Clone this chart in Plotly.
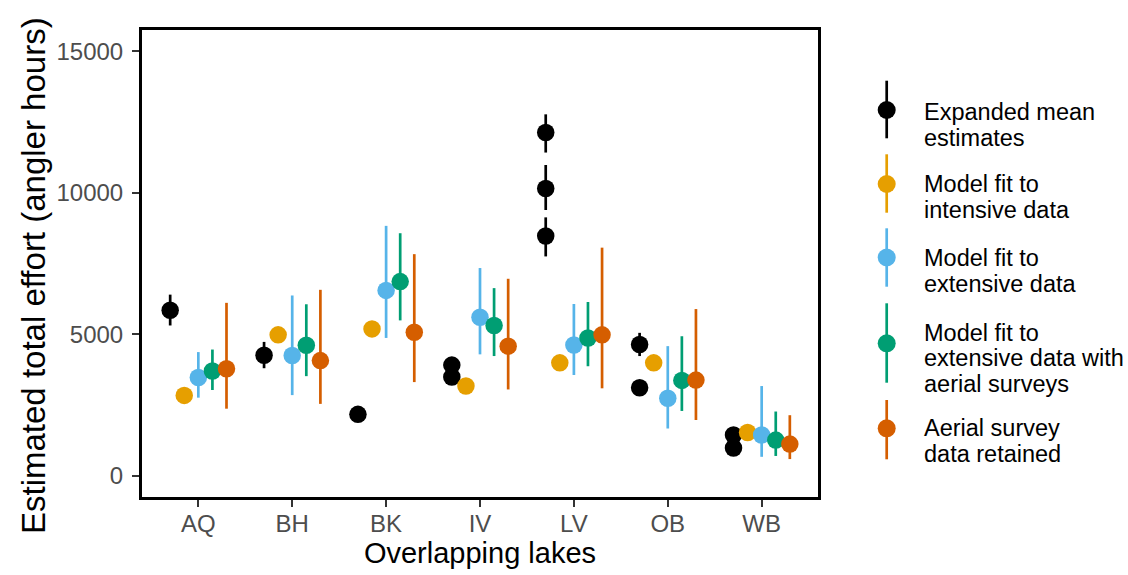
import plotly.graph_objects as go

# ---------------- data ----------------
lakes = ["AQ", "BH", "BK", "IV", "LV", "OB", "WB"]

# Expanded mean estimates (several per lake for some lakes)
mean_lakes = ["AQ", "BH", "BK", "IV", "IV", "LV", "LV", "LV", "OB", "OB", "WB", "WB"]
mean_est = [5850, 4260, 2170, 3910, 3490, 12130, 10150, 8470, 4640, 3110, 1440, 980]
mean_lo = [5310, 3800, 2170, 3910, 3490, 11420, 9390, 7750, 4230, 3110, 1440, 980]
mean_hi = [6400, 4730, 2170, 3910, 3490, 12770, 10980, 9130, 5050, 3110, 1440, 980]

# Model fit to intensive data
int_est = [2840, 4980, 5190, 3170, 3990, 3990, 1530]
int_lo = [2840, 4980, 5190, 3170, 3990, 3990, 1530]
int_hi = [2840, 4980, 5190, 3170, 3990, 3990, 1530]

# Model fit to extensive data
ext_est = [3470, 4250, 6550, 5600, 4620, 2740, 1440]
ext_lo = [2760, 2850, 4870, 4290, 3560, 1670, 670]
ext_hi = [4370, 6370, 8830, 7340, 6070, 4580, 3170]

# Model fit to extensive data with aerial surveys
aer_est = [3700, 4610, 6860, 5310, 4870, 3370, 1260]
aer_lo = [3030, 3520, 5490, 4230, 3870, 2290, 700]
aer_hi = [4460, 6060, 8570, 6630, 6140, 4930, 2270]

# Aerial survey data retained
ret_est = [3780, 4070, 5070, 4580, 4980, 3380, 1120]
ret_lo = [2370, 2540, 3310, 3050, 3090, 1970, 590]
ret_hi = [6110, 6570, 7830, 6960, 8060, 5890, 2140]

series_names = [
    "Expanded mean<br>estimates",
    "Model fit to<br>intensive data",
    "Model fit to<br>extensive data",
    "Model fit to<br>extensive data with<br>aerial surveys",
    "Aerial survey<br>data retained",
]
colors = ["#000000", "#E69F00", "#56B4E9", "#009E73", "#D55E00"]

y_ticks = [0, 5000, 10000, 15000]

# ---------------- figure ----------------
W, H = 1128, 575
ML, MR, MT, MB = 142, 310, 30, 78
PW, PH = W - ML - MR, H - MT - MB

FONT = "Liberation Sans, Arial, sans-serif"

fig = go.Figure()

all_series = [
    (mean_lakes, mean_est, mean_lo, mean_hi),
    (lakes, int_est, int_lo, int_hi),
    (lakes, ext_est, ext_lo, ext_hi),
    (lakes, aer_est, aer_lo, aer_hi),
    (lakes, ret_est, ret_lo, ret_hi),
]

for i, (xs, est, lo, hi) in enumerate(all_series):
    fig.add_trace(go.Scatter(
        x=xs, y=est, mode="markers",
        name=series_names[i],
        offsetgroup=str(i),
        marker=dict(color=colors[i], size=17.5, line=dict(width=0)),
        error_y=dict(type="data", symmetric=False,
                     array=[h - e for h, e in zip(hi, est)],
                     arrayminus=[e - l for e, l in zip(est, lo)],
                     color=colors[i], thickness=2.7, width=0),
        showlegend=False,
    ))

fig.update_layout(
    width=W, height=H,
    margin=dict(l=ML, r=MR, t=MT, b=MB),
    paper_bgcolor="white", plot_bgcolor="white",
    scattermode="group", scattergap=0.25,
    font=dict(family=FONT, color="#000000"),
    showlegend=False,
)

fig.update_xaxes(
    type="category", categoryorder="array", categoryarray=lakes,
    range=[-0.6, 6.6],
    showline=True, linecolor="black", linewidth=3, mirror=True,
    ticks="outside", ticklen=7, tickwidth=2, tickcolor="#333333",
    ticklabelstandoff=-4,
    tickfont=dict(size=24, color="#4D4D4D", family=FONT),
    showgrid=False, zeroline=False,
    title=dict(text="Overlapping lakes", font=dict(size=29, color="black", family=FONT), standoff=7),
)
fig.update_yaxes(
    range=[-750, 15750],
    tickvals=y_ticks, ticktext=[str(v) for v in y_ticks],
    showline=True, linecolor="black", linewidth=3, mirror=True,
    ticks="outside", ticklen=7, tickwidth=2, tickcolor="#333333",
    ticklabelstandoff=4,
    tickfont=dict(size=24, color="#4D4D4D", family=FONT),
    showgrid=False, zeroline=False,
)

# ---------------- helpers for pixel -> paper ----------------
def px(xp):
    return (xp - ML) / PW

def py(yp):
    return (H - MB - yp) / PH

# y-axis title (placed as annotation so it is not clipped)
fig.add_annotation(xref="paper", yref="paper", x=px(33), y=py(276),
                   xanchor="center", yanchor="middle", textangle=-90,
                   text="Estimated total effort (angler hours)", showarrow=False,
                   font=dict(size=33, color="black", family=FONT))

# ---------------- manual legend (ggplot-style keys) ----------------
key_x = 886.7
text_x = 922
legend_keys = [
    # (line top, line bottom, dot y, [text line y centres])
    (80.7, 138.3, 110, [112, 137.5], ["Expanded mean", "estimates"]),
    (154.3, 212.7, 184, [184, 210], ["Model fit to", "intensive data"]),
    (228.3, 286.7, 257.5, [258, 284], ["Model fit to", "extensive data"]),
    (303.3, 382.7, 343.3, [332.5, 358, 383.5], ["Model fit to", "extensive data with", "aerial surveys"]),
    (400, 459.3, 428.3, [428.3, 453.5], ["Aerial survey", "data retained"]),
]
for i, (t, b, dy, tys, lines) in enumerate(legend_keys):
    fig.add_shape(type="line", xref="paper", yref="paper",
                  x0=px(key_x), x1=px(key_x), y0=py(t), y1=py(b),
                  line=dict(color=colors[i], width=2.7))
    fig.add_shape(type="circle", xref="paper", yref="paper",
                  xsizemode="pixel", ysizemode="pixel",
                  xanchor=px(key_x), yanchor=py(dy),
                  x0=-9, x1=9, y0=-9, y1=9,
                  fillcolor=colors[i], line=dict(width=0))
    for ty, txt in zip(tys, lines):
        fig.add_annotation(xref="paper", yref="paper", x=px(text_x), y=py(ty),
                           xanchor="left", yanchor="middle", text=txt,
                           showarrow=False,
                           font=dict(size=23.5, color="black", family=FONT))

fig.write_html("out.html")
